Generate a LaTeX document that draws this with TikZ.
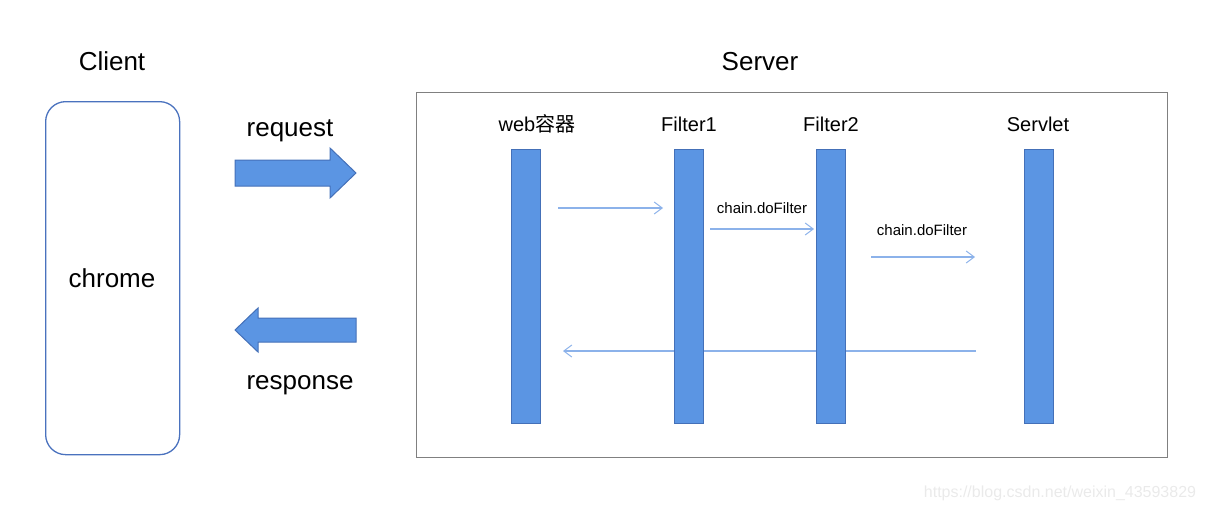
\documentclass[tikz,border=0pt]{standalone}
\usepackage{fontspec}
\setmainfont{Liberation Sans}
\newfontfamily\cjk{Noto Sans CJK SC}
\usetikzlibrary{arrows.meta}
\definecolor{barfill}{HTML}{5B95E3}
\definecolor{barline}{HTML}{4470B8}
\definecolor{thinarr}{HTML}{8CB2EA}
\definecolor{boxline}{HTML}{4A72BE}
\definecolor{srvline}{HTML}{808080}
\definecolor{wm}{HTML}{EAEAEA}
\tikzset{
  bar/.style={draw=barline, line width=1pt, fill=barfill, minimum width=29pt, minimum height=274pt, anchor=north west, inner sep=0pt},
  bigtxt/.style={font=\fontsize{26pt}{30pt}\selectfont, inner sep=0pt},
  lbltxt/.style={font=\fontsize{20pt}{24pt}\selectfont, inner sep=0pt},
  smalltxt/.style={font=\fontsize{15pt}{18pt}\selectfont, inner sep=0pt},
  thin/.style={draw=thinarr, line width=1.3pt, -{Straight Barb[length=8pt,width=12pt,line width=1pt]}},
  bigarrow/.style={draw=barline, line width=1pt, fill=barfill, line join=miter},
}
\begin{document}
\begin{tikzpicture}[x=1pt,y=-1pt]
\useasboundingbox (0,0) rectangle (1205,512);
% Client side
\node[bigtxt] (client) at (112,61) {Client};
\node[draw=boxline, line width=1.3pt, rounded corners=20pt, minimum width=134pt, minimum height=353pt, anchor=north west, inner sep=0pt] (browser) at (45,101) {};
\node[bigtxt] (chrome) at (112,278) {chrome};
% big arrows
\node[bigtxt] (req) at (290,131) {request};
\draw[bigarrow] (235,160) -- (330,160) -- (330,148) -- (356,173) -- (330,198) -- (330,186) -- (235,186) -- cycle;
\draw[bigarrow] (356,318) -- (258,318) -- (258,308) -- (235,330) -- (258,352) -- (258,342) -- (356,342) -- cycle;
\node[bigtxt] (resp) at (300,385) {response};
% Server
\node[bigtxt] (server) at (760,62) {Server};
\node[draw=srvline, line width=0.8pt, minimum width=751pt, minimum height=365pt, anchor=north west, inner sep=0pt] (srv) at (416,92) {};
% labels
\node[lbltxt] (lweb) at (537,124) {web{\cjk 容器}};
\node[lbltxt] (lf1) at (689,124) {Filter1};
\node[lbltxt] (lf2) at (831,124) {Filter2};
\node[lbltxt] (lsv) at (1038,124) {Servlet};
% return arrow (behind bars)
\coordinate (r1) at (976,351);
\coordinate (r2) at (563,351);
\draw[thin] (r1) -- (r2);
% bars
\node[bar] (bweb) at (511,149) {};
\node[bar] (bf1) at (674,149) {};
\node[bar] (bf2) at (816,149) {};
\node[bar] (bsv) at (1024,149) {};
% forward arrows
\coordinate (a1s) at (558,208);
\coordinate (a1e) at (663,208);
\draw[thin] (a1s) -- (a1e);
\coordinate (a2s) at (710,229);
\coordinate (a2e) at (814,229);
\draw[thin] (a2s) -- (a2e);
\node[smalltxt] (c1) at (762,208) {chain.doFilter};
\coordinate (a3s) at (871,257);
\coordinate (a3e) at (975,257);
\draw[thin] (a3s) -- (a3e);
\node[smalltxt] (c2) at (922,230) {chain.doFilter};
% watermark
\node[font=\fontsize{16pt}{19pt}\selectfont, text=wm, inner sep=0pt] (wmk) at (1060,493) {https://blog.csdn.net/weixin\_43593829};
\end{tikzpicture}
\end{document}
